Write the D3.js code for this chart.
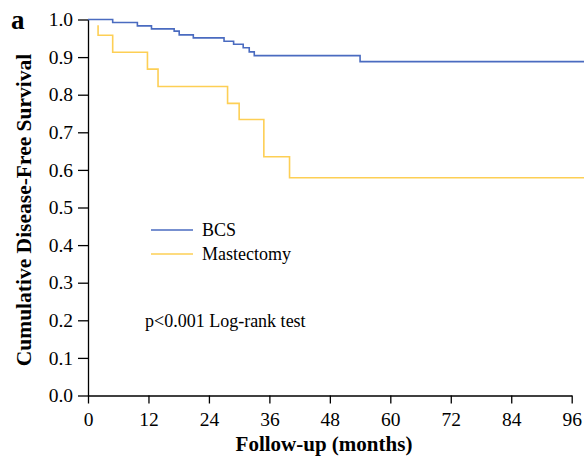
<!DOCTYPE html>
<html>
<head>
<meta charset="utf-8">
<script src="https://cdn.jsdelivr.net/npm/d3@7"></script>
<style>
  body { margin: 0; background: #fff; }
  svg text { font-family: "Liberation Serif", "Times New Roman", serif; }
</style>
</head>
<body>
<svg width="584" height="456"></svg>
<script>
// Kaplan-Meier curves
var bcsTimes = [0, 4.9, 9.8, 12.6, 17.1, 18.1, 20.9, 27.0, 28.9, 30.8, 32.0, 33.0, 54.0, 98.5];
var bcsSurv  = [1.0, 0.992, 0.983, 0.975, 0.969, 0.959, 0.951, 0.942, 0.934, 0.925, 0.914, 0.904, 0.888, 0.888];
var mastTimes = [2, 2, 4.9, 11.8, 13.9, 27.7, 30.0, 34.9, 40.0, 98.5];
var mastSurv  = [0.985, 0.958, 0.913, 0.868, 0.822, 0.777, 0.734, 0.635, 0.579, 0.579];
var xTicks = [0, 12, 24, 36, 48, 60, 72, 84, 96];
var yTicks = [0, 0.1, 0.2, 0.3, 0.4, 0.5, 0.6, 0.7, 0.8, 0.9, 1.0];
var seriesNames = ["BCS", "Mastectomy"];
var seriesColors = ["#4a6bc0", "#fdcf55"];

var svg = d3.select("svg");
var x = d3.scaleLinear().domain([0, 96]).range([88, 571.7]);
var y = d3.scaleLinear().domain([0, 1]).range([395.5, 19.5]);

var line = d3.line()
  .x(function(d) { return x(d[0]) })
  .y(function(d) { return y(d[1]) })
  .curve(d3.curveStepAfter);

// axes
var xAxis = svg.append("g")
  .attr("transform", "translate(0," + y(0) + ")")
  .call(d3.axisBottom(x).tickValues(xTicks).tickSize(8).tickPadding(9).tickSizeOuter(0));
var yAxis = svg.append("g")
  .attr("transform", "translate(" + x(0) + ",0)")
  .call(d3.axisLeft(y).tickValues(yTicks).tickFormat(d3.format(".1f")).tickSize(10).tickPadding(5).tickSizeOuter(0));
[xAxis, yAxis].forEach(function(a) {
  a.attr("font-family", null).attr("font-size", null);
  a.selectAll("path, line").attr("stroke", "#000").attr("stroke-width", 1.3);
  a.selectAll("text").attr("fill", "#000").style("font-size", "19.5px");
});

// curves
var curves = [
  mastTimes.map(function(t, i) { return [t, mastSurv[i]] }),
  bcsTimes.map(function(t, i) { return [t, bcsSurv[i]] })
];
var curveColors = [seriesColors[1], seriesColors[0]];
svg.append("g").selectAll("path").data(curves)
  .enter().append("path")
  .attr("d", line)
  .attr("fill", "none")
  .attr("stroke", function(d, i) { return curveColors[i] })
  .attr("stroke-width", 1.6);

// legend
var legend = svg.append("g").selectAll("g").data(seriesNames)
  .enter().append("g")
  .attr("transform", function(d, i) { return "translate(151," + (230 + i * 24) + ")" });
legend.append("line")
  .attr("x1", 0).attr("x2", 42)
  .attr("stroke", function(d, i) { return seriesColors[i] })
  .attr("stroke-width", 1.6);
legend.append("text")
  .attr("x", 51).attr("y", 6)
  .style("font-size", "18px")
  .text(function(d) { return d });

svg.append("text")
  .attr("x", 145).attr("y", 327)
  .style("font-size", "18px")
  .text("p<0.001 Log-rank test");

// titles
svg.append("text")
  .attr("x", 324).attr("y", 451)
  .attr("text-anchor", "middle")
  .style("font-size", "21px").style("font-weight", "bold")
  .text("Follow-up (months)");
svg.append("text")
  .attr("transform", "translate(31,210) rotate(-90)")
  .attr("text-anchor", "middle")
  .style("font-size", "21.5px").style("font-weight", "bold")
  .text("Cumulative Disease-Free Survival");
svg.append("text")
  .attr("x", 11).attr("y", 29)
  .style("font-size", "27px").style("font-weight", "bold")
  .text("a");
</script>
</body>
</html>
